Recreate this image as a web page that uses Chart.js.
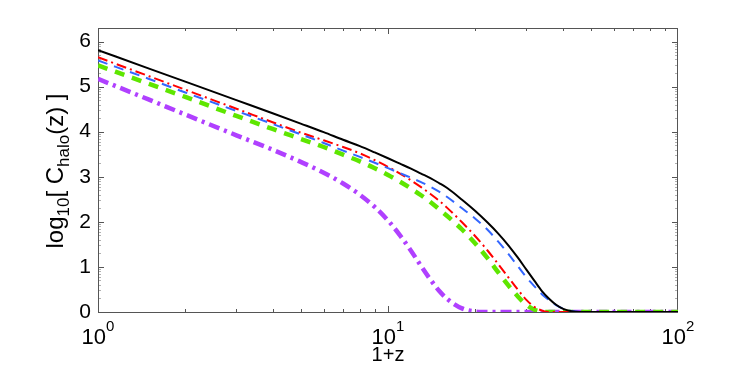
<!DOCTYPE html>
<html>
<head>
<meta charset="utf-8">
<script src="https://cdn.jsdelivr.net/npm/chart.js@4/dist/chart.umd.min.js"></script>
<style>
  body { margin: 0; background: #fff; }
  canvas { display: block; }
</style>
</head>
<body>
<canvas id="haloChart" width="747" height="371"></canvas>
<script>
// 1+z sample points shared by every curve
const xValues = [1, 1.5, 2, 3, 4, 5, 6, 7, 8, 9, 10, 11, 12, 13, 14, 15, 16, 18, 20, 22, 24, 26, 28, 30, 32, 34, 36, 38, 40, 43, 46, 50, 100];

// log10 C_halo(z)
const blackSolid = [5.81, 5.40, 5.11, 4.70, 4.41, 4.18, 3.99, 3.82, 3.68, 3.54, 3.41, 3.29, 3.18, 3.07, 2.97, 2.86, 2.75, 2.49, 2.24, 1.99, 1.74, 1.48, 1.21, 0.94, 0.69, 0.46, 0.29, 0.16, 0.075, 0.015, 0, 0, 0];
const blueDashed = [5.58, 5.17, 4.87, 4.46, 4.17, 3.94, 3.75, 3.58, 3.44, 3.31, 3.19, 3.08, 2.98, 2.88, 2.78, 2.67, 2.55, 2.30, 2.07, 1.83, 1.56, 1.29, 1.02, 0.77, 0.57, 0.39, 0.26, 0.15, 0.08, 0.02, 0, 0, 0];
const redDashDot = [5.65, 5.23, 4.93, 4.51, 4.21, 3.98, 3.81, 3.66, 3.52, 3.37, 3.22, 3.07, 2.92, 2.77, 2.62, 2.47, 2.31, 1.99, 1.68, 1.37, 1.06, 0.77, 0.50, 0.27, 0.11, 0.03, 0, 0, 0, 0, 0, 0, 0];
const greenDashed = [5.47, 5.06, 4.77, 4.35, 4.06, 3.84, 3.66, 3.49, 3.34, 3.19, 3.04, 2.89, 2.74, 2.59, 2.44, 2.28, 2.13, 1.83, 1.52, 1.20, 0.88, 0.59, 0.35, 0.16, 0.05, 0.01, 0, 0, 0, 0, 0, 0, 0];
const purpleDashDot = [5.17, 4.71, 4.38, 3.92, 3.60, 3.33, 3.09, 2.85, 2.60, 2.33, 2.03, 1.70, 1.36, 1.02, 0.72, 0.47, 0.29, 0.08, 0.01, 0, 0, 0, 0, 0, 0, 0, 0, 0, 0, 0, 0, 0, 0];

// ticks
const xTicks = [1, 10, 100];
const xTickExponents = ["0", "1", "2"];
const yTicks = [0, 1, 2, 3, 4, 5, 6];

const FONT = "'Liberation Sans', Arial, Helvetica, sans-serif";
Chart.defaults.font.family = FONT;

function toPoints(ys) {
  return xValues.map((x, i) => ({ x: x, y: ys[i] }));
}

function series(ys, color, width, dash) {
  return {
    data: toPoints(ys),
    borderColor: color,
    borderWidth: width,
    borderDash: dash,
    pointRadius: 0,
    fill: false,
    cubicInterpolationMode: "monotone",
  };
}

// Cadre, graduations et textes a la MATLAB
const frame = {
  id: "frame",
  beforeDatasetsDraw(chart) {
    const { ctx, chartArea: a, scales } = chart;
    const x = scales.x, y = scales.y;
    ctx.save();
    ctx.lineWidth = 1;

    // petites graduations y (gris)
    ctx.strokeStyle = "#b0b0b0";
    ctx.beginPath();
    for (let k = 0; k < 7; k++) {
      for (let m = 2; m <= 9; m++) {
        const v = k + Math.log10(m);
        if (v > y.max) continue;
        const py = Math.round(y.getPixelForValue(v)) + 0.5;
        ctx.moveTo(a.left, py); ctx.lineTo(a.left + 3, py);
        ctx.moveTo(a.right, py); ctx.lineTo(a.right - 3, py);
      }
    }
    ctx.stroke();

    ctx.strokeStyle = "#555";
    ctx.beginPath();
    // graduations x (log)
    for (let d = 0; d < 2; d++) {
      for (let m = 1; m <= 9; m++) {
        const v = m * Math.pow(10, d);
        const px = Math.round(x.getPixelForValue(v)) + 0.5;
        const len = m === 1 ? 6 : 3;
        ctx.moveTo(px, a.bottom); ctx.lineTo(px, a.bottom - len);
        ctx.moveTo(px, a.top); ctx.lineTo(px, a.top + len);
      }
    }
    // graduations y
    yTicks.forEach((v) => {
      const py = Math.round(y.getPixelForValue(v)) + 0.5;
      ctx.moveTo(a.left, py); ctx.lineTo(a.left + 6, py);
      ctx.moveTo(a.right, py); ctx.lineTo(a.right - 6, py);
    });
    ctx.stroke();

    ctx.strokeRect(Math.round(a.left) + 0.5, Math.round(a.top) + 0.5,
      Math.round(a.width) - 1, Math.round(a.height));
    ctx.restore();
  },
  afterDraw(chart) {
    const { ctx, scales } = chart;
    ctx.save();
    ctx.fillStyle = "#000";
    ctx.textBaseline = "alphabetic";

    // etiquettes 10^n
    xTicks.forEach((v, i) => {
      const px = scales.x.getPixelForValue(v);
      ctx.font = "22px " + FONT;
      const wBase = ctx.measureText("10").width;
      ctx.font = "15px " + FONT;
      const wExp = ctx.measureText(xTickExponents[i]).width;
      const x0 = px - (wBase + wExp) / 2;
      ctx.font = "22px " + FONT;
      ctx.fillText("10", x0, 344);
      ctx.font = "15px " + FONT;
      ctx.fillText(xTickExponents[i], x0 + wBase, 331);
    });

    // titre de l'axe y : log10[ C_halo(z) ]
    const parts = [
      ["log", false], ["10", true], ["[ C", false], ["halo", true], ["(z) ]", false],
    ];
    const sizeOf = (sub) => (sub ? 17 : 24);
    let total = 0;
    parts.forEach(([t, sub]) => {
      ctx.font = sizeOf(sub) + "px " + FONT;
      total += ctx.measureText(t).width;
    });
    ctx.translate(63, 171);
    ctx.rotate(-Math.PI / 2);
    let pos = -total / 2;
    parts.forEach(([t, sub]) => {
      ctx.font = sizeOf(sub) + "px " + FONT;
      ctx.fillText(t, pos, sub ? 6 : 0);
      pos += ctx.measureText(t).width;
    });
    ctx.restore();
  },
};

new Chart(document.getElementById("haloChart"), {
  type: "line",
  data: {
    datasets: [
      series(blackSolid, "#000000", 2, []),
      series(blueDashed, "#3366ff", 2, [10, 7]),
      series(redDashDot, "#ff0000", 2, [10, 4, 2, 4]),
      series(greenDashed, "#5ee600", 4.5, [10, 8]),
      series(purpleDashDot, "#b040ff", 4.5, [11, 5, 3, 5]),
    ],
  },
  options: {
    responsive: false,
    animation: false,
    layout: { padding: { left: 0, top: 28, right: 69, bottom: 0 } },
    plugins: { legend: { display: false }, tooltip: { enabled: false } },
    scales: {
      x: {
        type: "logarithmic",
        min: 1,
        max: 100,
        grid: { display: false, drawTicks: false },
        border: { display: false },
        ticks: { display: false },
        title: {
          display: true,
          text: "1+z",
          color: "#000",
          font: { size: 20 },
          padding: { top: 0, bottom: 4 },
        },
        afterFit(scale) { scale.height = 59; },
      },
      y: {
        type: "linear",
        min: 0,
        max: 6.3,
        grid: { display: false, drawTicks: false },
        border: { display: false },
        ticks: {
          stepSize: 1,
          includeBounds: false,
          color: "#000",
          font: { size: 21 },
          padding: 7,
        },
        afterFit(scale) { scale.width = 98; },
      },
    },
  },
  plugins: [frame],
});
</script>
</body>
</html>
